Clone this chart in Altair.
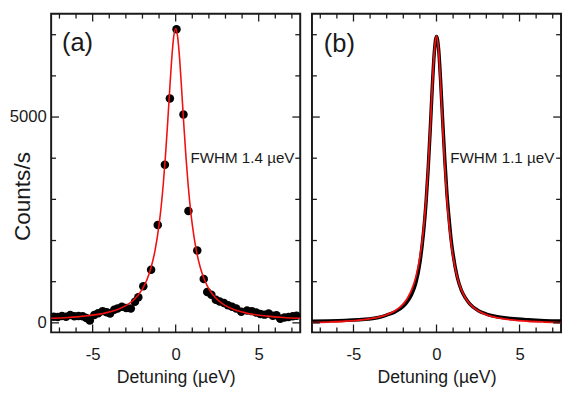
import altair as alt
import pandas as pd

# ---------------- data ----------------
# panel (a): measured points
a_x = [-7.34, -7.1, -6.85, -6.6, -6.35, -6.1, -5.85, -5.6, -5.38, -5.17,
       -4.9, -4.67, -4.4, -4.15, -3.95, -3.7, -3.5, -3.24, -2.98, -2.7,
       -2.45, -2.25, -1.95, -1.48, -1.08, -0.65, -0.35, 0.05, 0.47, 0.77,
       1.30, 1.69, 1.90, 2.15, 2.42, 2.65, 2.91, 3.15, 3.4, 3.65,
       3.95, 4.3, 4.59, 4.85, 5.1, 5.35, 5.6, 5.85, 6.07, 6.3,
       6.55, 6.8, 7.05, 7.28]
a_y = [150, 140, 165, 150, 190, 160, 165, 160, 120, 60,
       190, 235, 285, 260, 230, 320, 350, 390, 360, 350,
       510, 620, 890, 1290, 2380, 3840, 5450, 7130, 5060, 2720,
       1760, 1065, 750, 680, 560, 520, 480, 430, 390, 350,
       270, 300, 285, 250, 215, 200, 230, 175, 185, 100,
       130, 140, 160, 170]

# curves
g_x = [-7.5, -6.5, -5.5, -4.5, -3.5, -3, -2.5, -2, -1.75, -1.5, -1.25, -1,
       -0.875, -0.75, -0.625, -0.5, -0.375, -0.25, -0.125, 0,
       0.125, 0.25, 0.375, 0.5, 0.625, 0.75, 0.875, 1, 1.25, 1.5, 1.75, 2,
       2.5, 3, 3.5, 4.5, 5.5, 6.5, 7.5]
fit_a = [111, 131, 163, 218, 323, 417, 566, 825, 1029, 1320, 1745, 2385,
         2821, 3355, 4001, 4752, 5567, 6347, 6931, 7150,
         6931, 6347, 5567, 4752, 4001, 3355, 2821, 2385, 1745, 1320, 1029, 825,
         566, 417, 323, 218, 163, 131, 111]
fit_b = [7, 20, 39, 73, 139, 198, 293, 462, 599, 800, 1105, 1596,
         1952, 2418, 3025, 3803, 4748, 5771, 6626, 6970,
         6626, 5771, 4748, 3803, 3025, 2418, 1952, 1596, 1105, 800, 599, 462,
         293, 198, 139, 73, 39, 20, 7]
data_b = [40, 48, 60, 80, 130, 190, 265, 400, 520, 690, 960, 1460,
          1850, 2330, 2960, 3760, 4720, 5760, 6610, 6960,
          6660, 5860, 4880, 3960, 3160, 2560, 2040, 1660, 1110, 790, 600, 460,
          300, 215, 160, 105, 75, 55, 45]

x_minor = [-7, -6, -4, -3, -2, -1, 1, 2, 3, 4, 6, 7]
x_major = [-5, 0, 5]
y_minor = [1000, 2000, 3000, 4000, 6000, 7000]
y_major = [0, 5000]

# ---------------- style ----------------
W, H = 254, 325
XDOM = [-7.5, 7.5]
YDOM = [-231, 7511]
FONT = "Liberation Sans"
INK = "#1a1a1a"
RED = "#f01010"


def sx():
    return alt.Scale(domain=XDOM, nice=False, zero=False)


def sy():
    return alt.Scale(domain=YDOM, nice=False, zero=False)


def x_axis():
    return alt.Axis(values=x_major, labelExpr="'' + datum.value", tickSize=0,
                    domain=False, grid=False, labelFontSize=17, labelPadding=15,
                    labelFont=FONT, labelColor=INK, title="Detuning (µeV)",
                    titleFont=FONT, titleFontSize=18, titleFontWeight="normal",
                    titleColor=INK, titlePadding=6)


def y_axis(show):
    if not show:
        return None
    return alt.Axis(values=y_major, labelExpr="'' + datum.value", tickSize=0,
                    domain=False, grid=False, labelFontSize=17, labelPadding=5,
                    labelFont=FONT, labelColor=INK, title="Counts/s",
                    titleFont=FONT, titleFontSize=23, titleFontWeight="normal",
                    titleColor=INK, titleX=-29, titleY=186,
                    titleBaseline="middle", titleAlign="center")


def tick_layers(show_y):
    layers = []
    for vals, L in ((x_minor, 5), (x_major, 8)):
        df = pd.DataFrame({"t": vals})
        xe = alt.X("t:Q", scale=sx(), axis=x_axis())
        layers.append(alt.Chart(df).mark_rule(color=INK, strokeWidth=1.3).encode(
            x=xe, y=alt.value(H), y2=alt.value(H - L)))
        layers.append(alt.Chart(df).mark_rule(color=INK, strokeWidth=1.3).encode(
            x=xe, y=alt.value(0), y2=alt.value(L)))
    for vals, L in ((y_minor, 5), (y_major, 8)):
        df = pd.DataFrame({"t": vals})
        ye = alt.Y("t:Q", scale=sy(), axis=y_axis(show_y))
        layers.append(alt.Chart(df).mark_rule(color=INK, strokeWidth=1.3).encode(
            y=ye, x=alt.value(0), x2=alt.value(L)))
        layers.append(alt.Chart(df).mark_rule(color=INK, strokeWidth=1.3).encode(
            y=ye, x=alt.value(W), x2=alt.value(W - L)))
    return layers


def label(text, x, y, size):
    return alt.Chart(pd.DataFrame({"s": [text]})).mark_text(
        font=FONT, fontSize=size, align="left", baseline="middle", color=INK
    ).encode(x=alt.value(x), y=alt.value(y), text="s:N")


# ---------------- panel (a) ----------------
pts_a = pd.DataFrame({"x": a_x, "y": a_y})
fa = pd.DataFrame({"x": g_x, "y": fit_a})

pa_points = alt.Chart(pts_a).mark_circle(size=75, color="black", opacity=1,
                                         clip=True).encode(
    x=alt.X("x:Q", scale=sx(), axis=x_axis()),
    y=alt.Y("y:Q", scale=sy(), axis=y_axis(True)))
pa_fit = alt.Chart(fa).mark_line(color=RED, strokeWidth=1.6,
                                 interpolate="monotone", clip=True).encode(
    x=alt.X("x:Q", scale=sx(), axis=x_axis()),
    y=alt.Y("y:Q", scale=sy(), axis=y_axis(True)))

panel_a = alt.layer(
    pa_points, pa_fit, *tick_layers(True),
    label("(a)", 11, 30, 26),
    label("FWHM 1.4 µeV", 142, 147, 15.5),
).properties(width=W, height=H)

# ---------------- panel (b) ----------------
db = pd.DataFrame({"x": g_x, "y": data_b})
fb = pd.DataFrame({"x": g_x, "y": fit_b})

pb_data = alt.Chart(db).mark_line(color="black", strokeWidth=3.5,
                                  interpolate="monotone", clip=True).encode(
    x=alt.X("x:Q", scale=sx(), axis=x_axis()),
    y=alt.Y("y:Q", scale=sy(), axis=None))
pb_fit = alt.Chart(fb).mark_line(color=RED, strokeWidth=1.8,
                                 interpolate="monotone", clip=True).encode(
    x=alt.X("x:Q", scale=sx(), axis=x_axis()),
    y=alt.Y("y:Q", scale=sy(), axis=None))

panel_b = alt.layer(
    pb_data, pb_fit, *tick_layers(False),
    label("(b)", 12, 31, 26),
    label("FWHM 1.1 µeV", 141, 147, 15.5),
).properties(width=W, height=H)

chart = alt.hconcat(panel_a, panel_b, spacing=8).properties(
    padding=0
).configure_view(stroke=INK, strokeWidth=2)

chart.save("out.html", embed_options={"renderer": "svg", "actions": False})
